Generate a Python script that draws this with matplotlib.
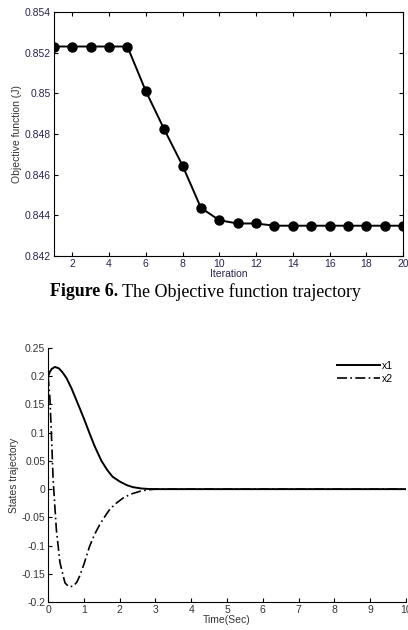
import matplotlib
matplotlib.use("Agg")
import matplotlib.pyplot as plt
from matplotlib.ticker import FuncFormatter

# objective function per iteration
iters = list(range(1, 21))
obj = [0.8523, 0.8523, 0.8523, 0.8523, 0.8523, 0.85011, 0.84823, 0.84644,
       0.84436, 0.84375, 0.84359, 0.84359, 0.84348, 0.84348, 0.84348,
       0.84348, 0.84348, 0.84348, 0.84348, 0.84348]

# states trajectory
t1 = [0, 0.05, 0.1, 0.19, 0.3, 0.4, 0.51, 0.65, 0.8, 1.0, 1.15, 1.3, 1.49,
      1.65, 1.8, 2.0, 2.2, 2.37, 2.6, 2.8, 3.0, 4, 5, 6, 7, 8, 9, 10]
x1 = [0.2, 0.208, 0.213, 0.2165, 0.214, 0.207, 0.197, 0.179, 0.156, 0.125,
      0.1, 0.076, 0.05, 0.034, 0.022, 0.0135, 0.007, 0.0035, 0.0012, 0.0003,
      0, 0, 0, 0, 0, 0, 0, 0]
t2 = [0.0, 0.05, 0.09, 0.14, 0.23, 0.33, 0.47, 0.58, 0.7, 0.8, 0.88, 1.0,
      1.16, 1.3, 1.44, 1.6, 1.72, 1.9, 2.09, 2.3, 2.56, 2.8, 3.0, 4, 5, 6, 7,
      8, 9, 10]
x2 = [0.2, 0.16, 0.1, 0.016, -0.072, -0.13, -0.166, -0.173, -0.172, -0.165,
      -0.154, -0.133, -0.101, -0.08, -0.063, -0.047, -0.036, -0.025, -0.016,
      -0.009, -0.004, -0.0012, 0, 0, 0, 0, 0, 0, 0, 0]

plt.rcParams['font.family'] = 'Liberation Sans'
tick_col = '#2a2450'
fmt = FuncFormatter(lambda v, p: '%g' % round(v, 3))

fig = plt.figure(figsize=(4.08, 6.30), dpi=100)

ax1 = fig.add_axes([0.132, 0.594, 0.856, 0.387])
ax1.plot(iters, obj, '-o', color='black', lw=1.4, markersize=6.5)
ax1.set_xlim(1, 20)
ax1.set_ylim(0.842, 0.854)
ax1.set_xticks(range(2, 21, 2))
ax1.set_yticks([0.842, 0.844, 0.846, 0.848, 0.85, 0.852, 0.854])
ax1.yaxis.set_major_formatter(fmt)
ax1.tick_params(direction='in', top=True, right=True, labelsize=7.5,
                labelcolor=tick_col, length=3, pad=2)
ax1.set_xlabel('Iteration', fontsize=7.5, color=tick_col, labelpad=0)
ax1.set_ylabel('Objective function (J)', fontsize=7.5, color='#333333', labelpad=2)

# caption: bold part followed by regular part
cap_y = 1 - 292 / 630
t_bold = fig.text(50 / 408, cap_y, 'Figure 6.', fontsize=12.9, fontweight='bold',
                  family='Liberation Serif', ha='left', va='center')
fig.canvas.draw()
bb = t_bold.get_window_extent(renderer=fig.canvas.get_renderer())
fig.text(bb.x1 / fig.bbox.width, cap_y, ' The Objective function trajectory',
         fontsize=12.9, family='Liberation Serif', ha='left', va='center')

ax2 = fig.add_axes([0.118, 0.0444, 0.877, 0.4032])
ax2.plot(t1, x1, '-', color='black', lw=1.4, label='x1')
ax2.plot(t2, x2, linestyle=(0, (6, 2, 1, 2)), color='black', lw=1.2, label='x2')
ax2.set_xlim(0, 10)
ax2.set_ylim(-0.2, 0.25)
ax2.set_xticks(range(0, 11))
ax2.set_yticks([-0.2, -0.15, -0.1, -0.05, 0, 0.05, 0.1, 0.15, 0.2, 0.25])
ax2.yaxis.set_major_formatter(fmt)
ax2.tick_params(direction='in', labelsize=7.5, labelcolor='#333333', length=3, pad=2)
for s in ['top', 'right']:
    ax2.spines[s].set_visible(False)
ax2.set_xlabel('Time(Sec)', fontsize=7.5, color='#333333', labelpad=0)
ax2.set_ylabel('States trajectory', fontsize=7.5, color='#333333', labelpad=2)
ax2.legend(loc='upper right', frameon=False, fontsize=7.5, handlelength=4.2,
           handletextpad=0.2, labelspacing=0.3, borderaxespad=0.8)

fig.savefig('out.png', dpi=100)
